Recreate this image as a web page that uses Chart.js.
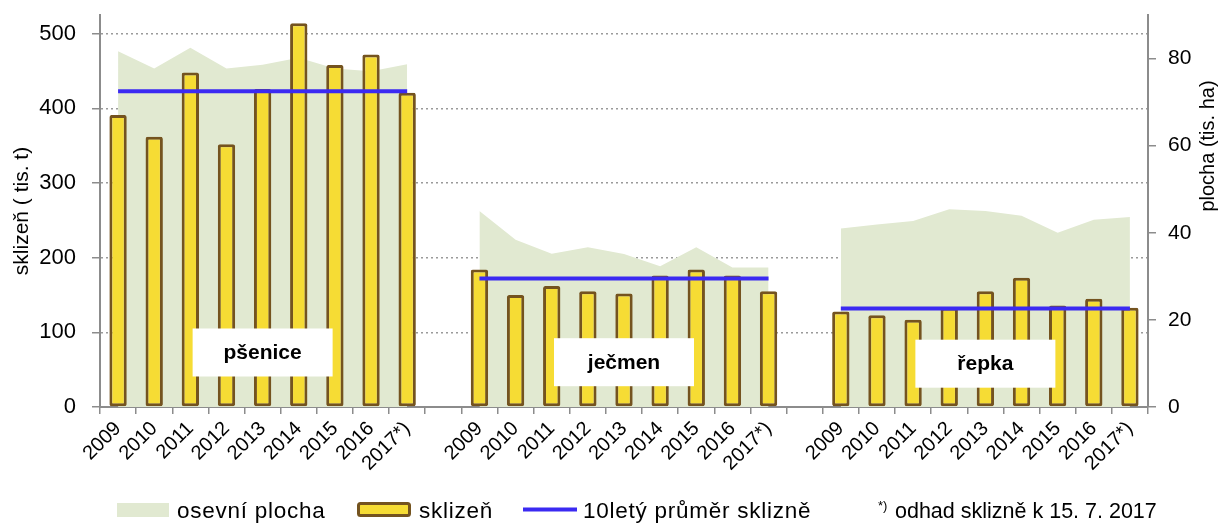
<!DOCTYPE html>
<html><head><meta charset="utf-8">
<script src="https://cdn.jsdelivr.net/npm/chart.js@4/dist/chart.umd.min.js"></script>
<style>html,body{margin:0;padding:0;background:#fff}#wrap{width:1227px;height:524px;position:relative}</style>
</head><body><div id="wrap"><canvas id="c"></canvas></div>
<script>
// ---- data ----
const years = ['2009','2010','2011','2012','2013','2014','2015','2016','2017*)'];
const crops = ['pšenice','ječmen','řepka'];
const harvestPsenice = [391, 362, 448, 352, 426, 514, 458, 472, 421];
const harvestJecmen  = [184, 150, 162, 155, 152, 176, 184, 176, 155];
const harvestRepka   = [128, 123, 117, 133, 155, 173, 136, 145, 133];
const areaPsenice = [81.7, 77.7, 82.5, 77.7, 78.6, 80.2, 77.7, 77.1, 78.7];
const areaJecmen  = [45.0, 38.4, 35.2, 36.7, 35.1, 32.3, 36.7, 32.0, 32.0];
const areaRepka   = [41.0, 41.9, 42.7, 45.4, 45.0, 43.9, 40.0, 43.0, 43.6];
const avgPsenice = 423, avgJecmen = 172, avgRepka = 132;
const leftTickValues = [0, 100, 200, 300, 400, 500];
const rightTickValues = [0, 20, 40, 60, 80];
const seriesNames = ['osevní plocha', 'sklizeň', '10letý průměr sklizně'];
const footnote = 'odhad sklizně k 15. 7. 2017';
const leftTitle = 'sklizeň ( tis. t)';
const rightTitle = 'plocha (tis. ha)';

// ---- styles ----
const FONT = '"Liberation Sans", Arial, sans-serif';
const areaColor = '#E1E9D1';
const barFill = '#F6DC34';
const barBorder = '#74531F';
const lineColor = '#3B2AF2';
const axisColor = '#8C8C8C';
const boxCenters = [{idx:4, v:73}, {idx:14, v:60}, {idx:24, v:58}];

const labels = years.concat([''], years, [''], years);
const harvest = harvestPsenice.concat([null], harvestJecmen, [null], harvestRepka);
const area = areaPsenice.concat([null], areaJecmen, [null], areaRepka);
const avg = years.map(() => avgPsenice).concat([null], years.map(() => avgJecmen), [null], years.map(() => avgRepka));

const extras = {
  id: 'extras',
  afterDatasetsDraw(chart) {
    const ctx = chart.ctx, x = chart.scales.x, y = chart.scales.y;
    ctx.save();
    crops.forEach((name, i) => {
      const cx = x.getPixelForValue(boxCenters[i].idx);
      const cy = y.getPixelForValue(boxCenters[i].v);
      ctx.fillStyle = '#fff';
      ctx.fillRect(cx - 70, cy - 24, 140, 48);
      ctx.fillStyle = '#000';
      ctx.font = 'bold 21px ' + FONT;
      ctx.textAlign = 'center';
      ctx.textBaseline = 'middle';
      ctx.fillText(name, cx, cy + 1);
    });
    ctx.restore();
  },
  afterDraw(chart) {
    const ctx = chart.ctx;
    ctx.save();
    ctx.translate(1208, 146);
    ctx.rotate(-Math.PI / 2);
    ctx.font = '20px ' + FONT;
    ctx.fillStyle = '#000';
    ctx.textAlign = 'center';
    ctx.textBaseline = 'middle';
    ctx.fillText(rightTitle, 0, 0);
    ctx.restore();

    ctx.save();
    ctx.textBaseline = 'alphabetic';
    ctx.textAlign = 'left';
    ctx.font = '22.5px ' + FONT;
    ctx.letterSpacing = '0.75px';
    ctx.fillStyle = areaColor;
    ctx.fillRect(117, 503, 52, 14);
    ctx.fillStyle = '#000';
    ctx.fillText(seriesNames[0], 177, 518);
    ctx.fillStyle = barFill;
    ctx.strokeStyle = barBorder;
    ctx.lineWidth = 3;
    ctx.beginPath();
    ctx.roundRect(358.5, 503.5, 51, 12, 2);
    ctx.fill(); ctx.stroke();
    ctx.fillStyle = '#000';
    ctx.fillText(seriesNames[1], 419, 518);
    ctx.strokeStyle = lineColor;
    ctx.lineWidth = 4;
    ctx.beginPath(); ctx.moveTo(523, 509.5); ctx.lineTo(577, 509.5); ctx.stroke();
    ctx.fillText(seriesNames[2], 583, 518);
    ctx.letterSpacing = '0px';
    ctx.font = '13px ' + FONT;
    ctx.fillText('*)', 878, 510);
    ctx.font = '21.5px ' + FONT;
    ctx.fillText(footnote, 895, 518);
    ctx.restore();
  }
};

new Chart(document.getElementById('c'), {
  type: 'bar',
  data: {
    labels,
    datasets: [
      { type: 'line', label: seriesNames[0], data: area, yAxisID: 'y1', fill: 'origin',
        backgroundColor: areaColor, borderWidth: 0, borderColor: areaColor, pointRadius: 0, tension: 0, order: 3, spanGaps: false },
      { type: 'bar', label: seriesNames[1], data: harvest, yAxisID: 'y', backgroundColor: barFill,
        borderColor: barBorder, borderWidth: 3, borderSkipped: false, borderRadius: 2,
        categoryPercentage: 1, barPercentage: 0.48, order: 2 },
      { type: 'line', label: seriesNames[2], data: avg, yAxisID: 'y', borderColor: lineColor,
        borderWidth: 4, pointRadius: 0, fill: false, tension: 0, order: 1, spanGaps: false }
    ]
  },
  options: {
    responsive: true, maintainAspectRatio: false, animation: false,
    layout: { padding: { top: 15, left: 0, right: 0, bottom: 0 } },
    plugins: { legend: { display: false }, tooltip: { enabled: false } },
    scales: {
      x: {
        grid: { drawOnChartArea: false, offset: true, color: axisColor, tickLength: 7, lineWidth: 1.5 },
        border: { color: axisColor, width: 2 },
        ticks: { autoSkip: false, maxRotation: 45, minRotation: 45, padding: 3, color: '#000',
                 font: { family: FONT, size: 20 } },
        afterFit(s) { s.height = 117; s.paddingLeft = 0; s.paddingRight = 0; }
      },
      y: {
        position: 'left', min: 0, max: 525,
        ticks: { padding: 16, color: '#000', font: { family: FONT, size: 22 } },
        afterBuildTicks(s) { s.ticks = leftTickValues.map(v => ({ value: v })); },
        grid: { color: (c) => c.tick && c.tick.value === 0 ? 'rgba(0,0,0,0)' : '#9A9A9A',
                tickColor: axisColor, tickLength: 8, lineWidth: 1.5, tickWidth: 1.5, tickBorderDash: [] },
        border: { color: axisColor, width: 2, dash: [2, 3] },
        title: { display: true, text: leftTitle, color: '#000', font: { family: FONT, size: 21 }, padding: { top: 10, bottom: 0 } },
        afterFit(s) { s.width = 100; s.paddingTop = 0; s.paddingBottom = 0; }
      },
      y1: {
        position: 'right', min: 0, max: 90,
        ticks: { padding: 12, color: '#000', font: { family: FONT, size: 21 } },
        afterBuildTicks(s) { s.ticks = rightTickValues.map(v => ({ value: v })); },
        grid: { drawOnChartArea: false, color: axisColor, tickLength: 8, lineWidth: 1.5 },
        border: { color: axisColor, width: 2 },
        afterFit(s) { s.width = 79; s.paddingTop = 0; s.paddingBottom = 0; }
      }
    }
  },
  plugins: [extras]
});
</script>
</body></html>
